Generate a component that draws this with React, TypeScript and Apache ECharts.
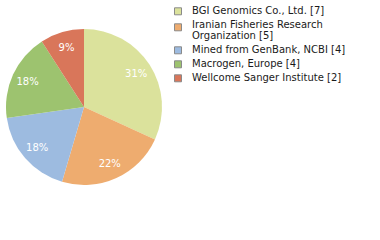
import React, { useEffect, useRef } from "react";
import * as echarts from "echarts";

const categories = [
  "BGI Genomics Co., Ltd. [7]",
  "Iranian Fisheries Research\nOrganization [5]",
  "Mined from GenBank, NCBI [4]",
  "Macrogen, Europe [4]",
  "Wellcome Sanger Institute [2]",
];
const values = [7, 5, 4, 4, 2];
const colors = ["#dbe29c", "#eeac6f", "#9dbbe0", "#9dc36f", "#d9765a"];

export default function App() {
  const ref = useRef<HTMLDivElement>(null);
  useEffect(() => {
    if (!ref.current) return;
    const chart = echarts.init(ref.current, undefined, { renderer: "svg" });
    const data = categories.map((c, i) => ({ name: c, value: values[i], itemStyle: { color: colors[i] } }));

    // legend built from data
    const graphics: any[] = [];
    let y = 10.5;
    categories.forEach((c, i) => {
      const lines = c.split("\n").length;
      graphics.push({
        type: "rect",
        shape: { x: 174.5, y: y + 0.8 + (lines - 1) * 2 - 3.5, width: 7, height: 7 },
        style: { fill: colors[i], stroke: "#8a8a8a", lineWidth: 1 },
      });
      graphics.push({
        type: "text",
        x: 192,
        y: y - 5.5,
        style: {
          text: c,
          fill: "#1a1a1a",
          font: "10px 'DejaVu Sans'",
          lineHeight: 11,
          verticalAlign: "top",
        },
      });
      y += lines * 11 + 3;
    });

    chart.setOption({
      animation: false,
      backgroundColor: "#ffffff",
      graphic: graphics,
      series: [
        {
          type: "pie",
          center: [84, 107],
          radius: [0, 78],
          startAngle: 90,
          clockwise: true,
          silent: true,
          label: { show: false },
          labelLine: { show: false },
          itemStyle: { borderWidth: 0 },
          emphasis: { disabled: true },
          data,
        },
        {
          type: "pie",
          center: [84, 107],
          radius: [40, 78],
          startAngle: 90,
          clockwise: true,
          silent: true,
          itemStyle: { color: "transparent", borderWidth: 0 },
          emphasis: { disabled: true },
          labelLine: { show: false },
          label: {
            show: true,
            position: "inside",
            color: "#ffffff",
            fontFamily: "DejaVu Sans",
            fontSize: 10,
            formatter: (p: any) => Math.floor((p.value / values.reduce((a, b) => a + b, 0)) * 100) + "%",
          },
          data: categories.map((c, i) => ({ name: c, value: values[i] })),
        },
      ],
    });
    return () => chart.dispose();
  }, []);
  return <div ref={ref} style={{ width: 380, height: 240, position: "absolute", left: 0, top: 0 }} />;
}
